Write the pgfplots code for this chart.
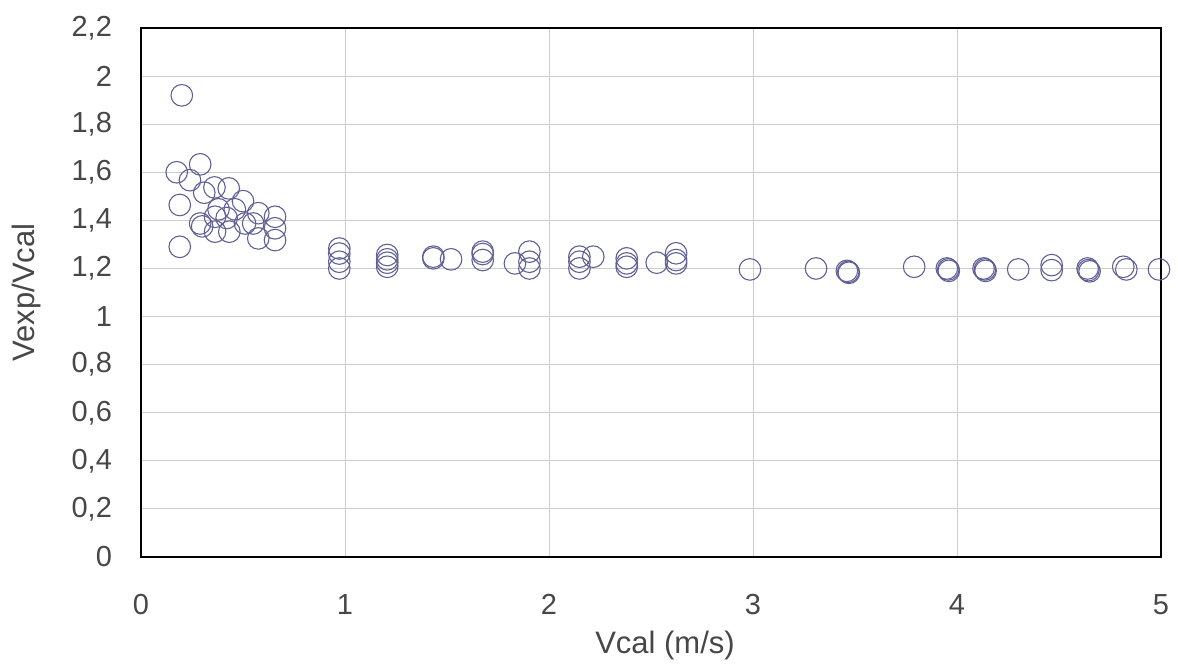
\documentclass[border=0pt]{standalone}
\usepackage{pgfplots}
\pgfplotsset{compat=1.18}
\usepackage{fontspec}
\setmainfont{Liberation Sans}
\definecolor{mk}{RGB}{96,96,150}
\definecolor{gr}{RGB}{205,205,205}
\begin{document}
\begin{tikzpicture}
\begin{axis}[
  scale only axis, width=510pt, height=264.5pt,
  xmin=0, xmax=5, ymin=0, ymax=2.2,
  xtick={0,1,2,3,4,5},
  ytick={0,0.2,0.4,0.6,0.8,1,1.2,1.4,1.6,1.8,2,2.2},
  yticklabels={0,{0,2},{0,4},{0,6},{0,8},1,{1,2},{1,4},{1,6},{1,8},2,{2,2}},
  xticklabels={0,1,2,3,4,5},
  major tick length=0pt,
  grid=major,
  major grid style={gr, line width=0.5pt},
  axis line style={black, line width=1.2pt},
  tick label style={font=\fontsize{14.5}{16}\selectfont, text=black!72},
  xticklabel style={yshift=-15pt},
  yticklabel style={xshift=-11pt},
  xlabel={Vcal (m/s)}, ylabel={Vexp/Vcal},
  label style={font=\fontsize{15.5}{17}\selectfont, text=black!72},
  xlabel style={at={(axis description cs:0.5,0)}, anchor=center, yshift=-44pt, xshift=7pt},
  ylabel style={at={(axis description cs:-0.1118,0.5)}, anchor=center},
  clip=false,
]
\addplot[only marks, mark=o, mark size=5.4pt, mark options={mk, line width=0.55pt}] table {
x y
0.20 1.92
0.175 1.60
0.29 1.633
0.24 1.567
0.31 1.515
0.36 1.537
0.43 1.533
0.19 1.464
0.50 1.48
0.38 1.446
0.46 1.446
0.575 1.43
0.657 1.415
0.29 1.387
0.30 1.375
0.363 1.415
0.42 1.41
0.363 1.353
0.433 1.353
0.51 1.387
0.55 1.387
0.575 1.325
0.657 1.367
0.657 1.318
0.19 1.29
0.972 1.283
0.972 1.262
0.972 1.228
0.972 1.20
1.207 1.256
1.207 1.238
1.207 1.224
1.207 1.207
1.433 1.249
1.433 1.242
1.52 1.238
1.675 1.27
1.675 1.235
1.675 1.260
1.833 1.221
1.904 1.27
1.904 1.228
1.904 1.20
2.149 1.249
2.149 1.228
2.149 1.20
2.217 1.249
2.381 1.242
2.381 1.221
2.381 1.207
2.528 1.224
2.623 1.263
2.623 1.235
2.623 1.221
2.985 1.196
3.309 1.20
3.467 1.186
3.47 1.182
3.46 1.19
3.79 1.207
3.957 1.196
3.96 1.19
3.95 1.20
4.137 1.196
4.14 1.19
4.13 1.20
4.30 1.196
4.464 1.214
4.464 1.193
4.644 1.193
4.65 1.188
4.64 1.20
4.815 1.207
4.83 1.196
4.99 1.196
};
\end{axis}
\path ([xshift=-70.5pt,yshift=-56pt]current axis.south west) rectangle ([xshift=8.5pt,yshift=14pt]current axis.north east);
\end{tikzpicture}
\end{document}
